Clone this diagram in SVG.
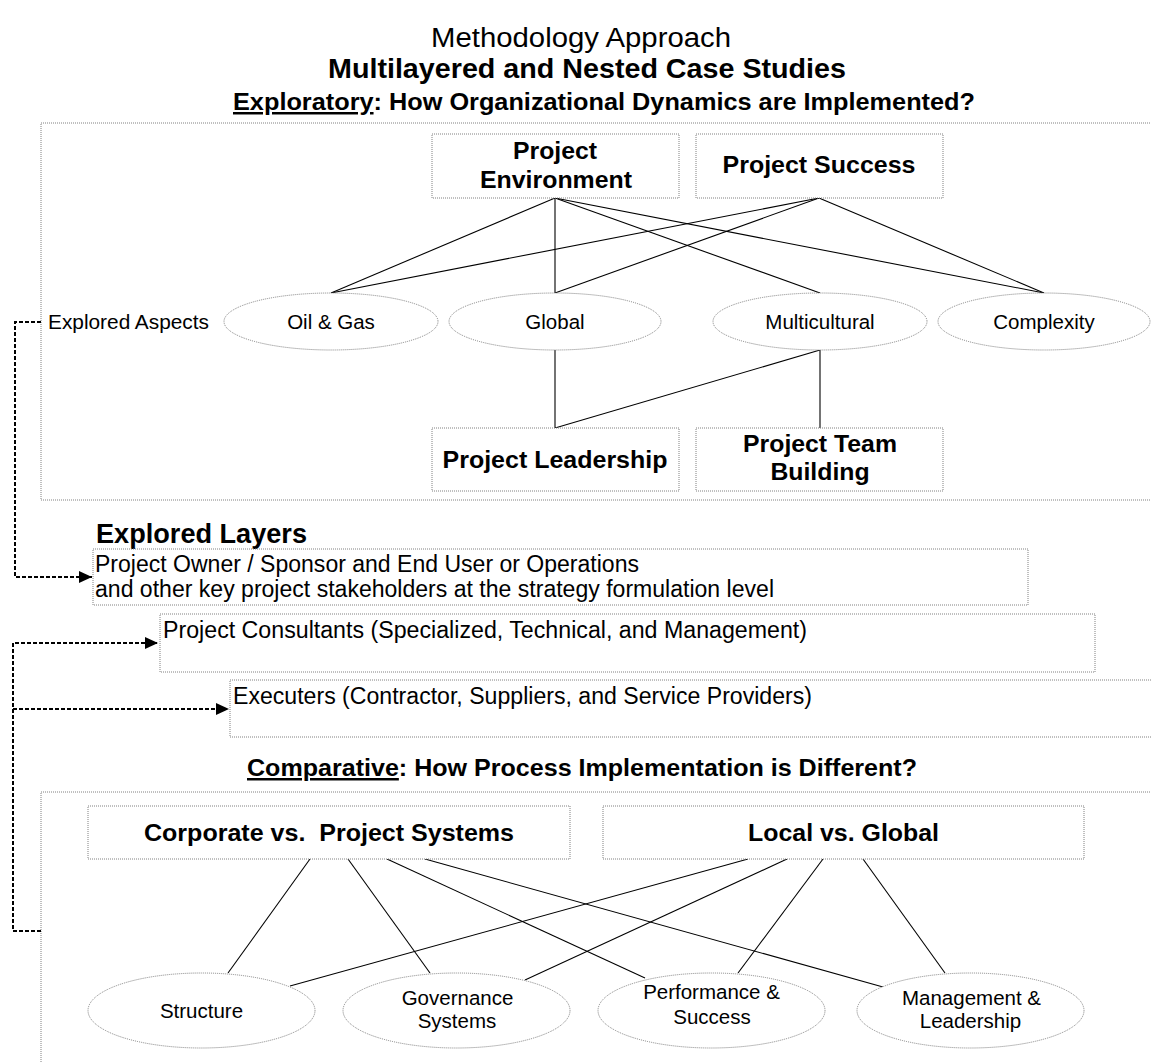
<svg xmlns="http://www.w3.org/2000/svg" width="1151" height="1062" viewBox="0 0 1151 1062">
  <style>
    text { font-family: "Liberation Sans", Arial, sans-serif; fill: #000; }
    .title { font-size: 27px; }
    .sub { font-size: 27px; font-weight: bold; }
    .sec { font-size: 24.8px; font-weight: bold; }
    .head { font-size: 24.8px; font-weight: bold; }
    .lab { font-size: 20.5px; }
    .layer { font-size: 23px; }
    .big { font-size: 27px; font-weight: bold; }
    .frame { fill: none; stroke: #808080; stroke-width: 1; stroke-dasharray: 1 1; }
    .node { fill: #fff; stroke: #808080; stroke-width: 1; stroke-dasharray: 1 1; }
    .link { stroke: #000; stroke-width: 1.1; fill: none; }
    .flow { stroke: #000; stroke-width: 2; stroke-dasharray: 4 2; fill: none; }
  </style>
  <defs>
    <marker id="arrow" viewBox="0 0 13 12" refX="13" refY="6" markerWidth="13" markerHeight="12" markerUnits="userSpaceOnUse" orient="auto">
      <path d="M0,0 L13,6 L0,12 z" fill="#000"/>
    </marker>
  </defs>

  <rect width="1151" height="1062" fill="#fff"/>

  <!-- headings -->
  <g id="titles">
    <text class="title" x="581" y="47" text-anchor="middle" textLength="300" lengthAdjust="spacingAndGlyphs">Methodology Approach</text>
    <text class="sub" x="587" y="78" text-anchor="middle" textLength="518" lengthAdjust="spacingAndGlyphs">Multilayered and Nested Case Studies</text>
    <text class="sec" x="233" y="110" textLength="742" lengthAdjust="spacingAndGlyphs"><tspan text-decoration="underline">Exploratory</tspan>: How Organizational Dynamics are Implemented?</text>
  </g>

  <!-- section frames -->
  <g id="exploratory-frame">
    <rect class="frame" x="41" y="123" width="1130" height="377"/>
  </g>
  <g id="comparative-frame">
    <rect class="frame" x="41" y="792" width="1130" height="300"/>
  </g>

  <!-- connectors -->
  <g id="connectors">
    <line class="link" x1="555" y1="198" x2="331" y2="293"/>
    <line class="link" x1="555" y1="198" x2="555" y2="293"/>
    <line class="link" x1="555" y1="198" x2="820" y2="293"/>
    <line class="link" x1="555" y1="198" x2="1044" y2="293"/>
    <line class="link" x1="819" y1="198" x2="331" y2="293"/>
    <line class="link" x1="819" y1="198" x2="555" y2="293"/>
    <line class="link" x1="819" y1="198" x2="1044" y2="293"/>

    <line class="link" x1="555" y1="350" x2="555" y2="428"/>
    <line class="link" x1="820" y1="350" x2="555" y2="428"/>
    <line class="link" x1="820" y1="350" x2="820" y2="428"/>

    <line class="link" x1="310" y1="859" x2="228" y2="973"/>
    <line class="link" x1="348" y1="859" x2="430" y2="973"/>
    <line class="link" x1="387" y1="859" x2="645" y2="978"/>
    <line class="link" x1="425" y1="859" x2="883" y2="987"/>
    <line class="link" x1="748" y1="859" x2="290" y2="986"/>
    <line class="link" x1="787" y1="859" x2="525" y2="980"/>
    <line class="link" x1="823" y1="859" x2="738" y2="973"/>
    <line class="link" x1="863" y1="859" x2="945" y2="973"/>

    <path class="flow" d="M41,322 H15 V577 H92" marker-end="url(#arrow)"/>
    <path class="flow" d="M41,931 H13 V643 H158" marker-end="url(#arrow)"/>
    <path class="flow" d="M13,709 H229" marker-end="url(#arrow)"/>
  </g>

  <!-- exploratory nodes -->
  <g id="project-environment">
    <rect class="node" x="432" y="134" width="247" height="64"/>
    <text class="head" x="555" y="159" text-anchor="middle">Project</text>
    <text class="head" x="556" y="188" text-anchor="middle" textLength="152" lengthAdjust="spacingAndGlyphs">Environment</text>
  </g>
  <g id="project-success">
    <rect class="node" x="696" y="134" width="247" height="64"/>
    <text class="head" x="819" y="173" text-anchor="middle" textLength="193" lengthAdjust="spacingAndGlyphs">Project Success</text>
  </g>

  <g id="explored-aspects">
    <text class="lab" x="48" y="329" textLength="161" lengthAdjust="spacingAndGlyphs">Explored Aspects</text>
  </g>
  <g id="oil-gas">
    <ellipse class="node" cx="331" cy="321.5" rx="107" ry="28.5"/>
    <text class="lab" x="331" y="329" text-anchor="middle">Oil &amp; Gas</text>
  </g>
  <g id="global">
    <ellipse class="node" cx="555" cy="321.5" rx="106" ry="28.5"/>
    <text class="lab" x="555" y="329" text-anchor="middle">Global</text>
  </g>
  <g id="multicultural">
    <ellipse class="node" cx="820" cy="321.5" rx="107" ry="28.5"/>
    <text class="lab" x="820" y="329" text-anchor="middle">Multicultural</text>
  </g>
  <g id="complexity">
    <ellipse class="node" cx="1044" cy="321.5" rx="106" ry="28.5"/>
    <text class="lab" x="1044" y="329" text-anchor="middle">Complexity</text>
  </g>

  <g id="project-leadership">
    <rect class="node" x="432" y="428" width="247" height="63"/>
    <text class="head" x="555" y="468" text-anchor="middle" textLength="225" lengthAdjust="spacingAndGlyphs">Project Leadership</text>
  </g>
  <g id="project-team-building">
    <rect class="node" x="696" y="428" width="247" height="63"/>
    <text class="head" x="820" y="452" text-anchor="middle">Project Team</text>
    <text class="head" x="820" y="480" text-anchor="middle">Building</text>
  </g>

  <!-- explored layers -->
  <g id="explored-layers">
    <text class="big" x="96" y="543" textLength="211" lengthAdjust="spacingAndGlyphs">Explored Layers</text>
  </g>
  <g id="layer-owner">
    <rect class="node" x="93" y="549" width="935" height="56"/>
    <text class="layer" x="95" y="572" textLength="544" lengthAdjust="spacingAndGlyphs">Project Owner / Sponsor and End User or Operations</text>
    <text class="layer" x="95" y="597" textLength="679" lengthAdjust="spacingAndGlyphs">and other key project stakeholders at the strategy formulation level</text>
  </g>
  <g id="layer-consultants">
    <rect class="node" x="160" y="614" width="935" height="58"/>
    <text class="layer" x="163" y="638" textLength="644" lengthAdjust="spacingAndGlyphs">Project Consultants (Specialized, Technical, and Management)</text>
  </g>
  <g id="layer-executers">
    <rect class="node" x="230" y="680" width="940" height="57"/>
    <text class="layer" x="233" y="704" textLength="579" lengthAdjust="spacingAndGlyphs">Executers (Contractor, Suppliers, and Service Providers)</text>
  </g>

  <!-- comparative part -->
  <g id="comparative-title">
    <text class="sec" x="247" y="776" textLength="670" lengthAdjust="spacingAndGlyphs"><tspan text-decoration="underline">Comparative</tspan>: How Process Implementation is Different?</text>
  </g>
  <g id="corporate-project">
    <rect class="node" x="88" y="806" width="482" height="53"/>
    <text class="head" x="144" y="841" style="white-space:pre" textLength="370" lengthAdjust="spacingAndGlyphs">Corporate vs.  Project Systems</text>
  </g>
  <g id="local-global">
    <rect class="node" x="603" y="806" width="481" height="53"/>
    <text class="head" x="748" y="841" textLength="191" lengthAdjust="spacingAndGlyphs">Local vs. Global</text>
  </g>

  <g id="structure">
    <ellipse class="node" cx="201.5" cy="1010.5" rx="113.5" ry="37.5"/>
    <text class="lab" x="201.5" y="1018" text-anchor="middle">Structure</text>
  </g>
  <g id="governance">
    <ellipse class="node" cx="456.5" cy="1010.5" rx="113.5" ry="37.5"/>
    <text class="lab" x="457.5" y="1005" text-anchor="middle">Governance</text>
    <text class="lab" x="457" y="1028" text-anchor="middle">Systems</text>
  </g>
  <g id="performance">
    <ellipse class="node" cx="711.5" cy="1010.5" rx="113.5" ry="37.5"/>
    <text class="lab" x="711.5" y="999" text-anchor="middle">Performance &amp;</text>
    <text class="lab" x="712" y="1024" text-anchor="middle">Success</text>
  </g>
  <g id="management">
    <ellipse class="node" cx="970.5" cy="1010.5" rx="113.5" ry="37.5"/>
    <text class="lab" x="971.5" y="1005" text-anchor="middle">Management &amp;</text>
    <text class="lab" x="970.5" y="1028" text-anchor="middle">Leadership</text>
  </g>
</svg>
